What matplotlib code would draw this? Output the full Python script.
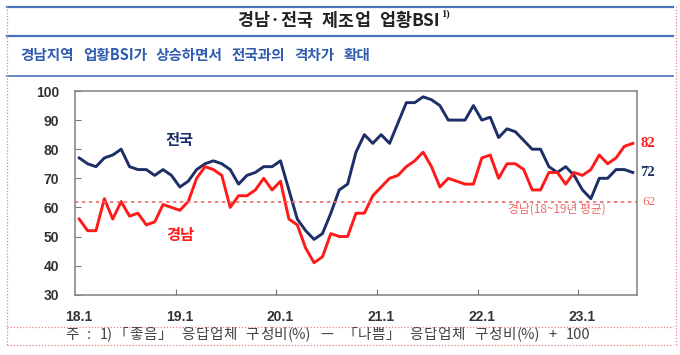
import matplotlib
matplotlib.use("Agg")
import matplotlib.pyplot as plt
from matplotlib.lines import Line2D

plt.rcParams["font.family"] = ["Noto Sans CJK KR", "DejaVu Sans"]

# monthly manufacturing BSI, 2018.1 - 2023.7
national = [
    77, 75, 74, 77, 78, 80, 74, 73, 73, 71, 73, 71,
    67, 69, 73, 75, 76, 75, 73, 68, 71, 72, 74, 74,
    76, 66, 56, 52, 49, 51, 58, 66, 68, 79, 85, 82,
    85, 82, 89, 96, 96, 98, 97, 95, 90, 90, 90, 95,
    90, 91, 84, 87, 86, 83, 80, 80, 74, 72, 74, 71,
    66, 63, 70, 70, 73, 73, 72,
]
gyeongnam = [
    56, 52, 52, 63, 56, 62, 57, 58, 54, 55, 61, 60,
    59, 62, 70, 74, 73, 71, 60, 64, 64, 66, 70, 66,
    69, 56, 54, 46, 41, 43, 51, 50, 50, 58, 58, 64,
    67, 70, 71, 74, 76, 79, 74, 67, 70, 69, 68, 68,
    77, 78, 70, 75, 75, 73, 66, 66, 72, 72, 68, 72,
    71, 73, 78, 75, 77, 81, 82,
]
gn_avg = 62
year_labels = ["18.1", "19.1", "20.1", "21.1", "22.1", "23.1"]
y_ticks = [30, 40, 50, 60, 70, 80, 90, 100]

title_words = ["경남·전국", "제조업", "업황BSI"]
subtitle_words = ["경남지역", "업황BSI가", "상승하면서", "전국과의", "격차가", "확대"]
note_words = ["주", ":", "1)「좋음」", "응답업체", "구성비(%)", "—",
              "「나쁨」", "응답업체", "구성비(%)", "+", "100"]

navy = "#1c2f66"
red = "#ff1a1a"
pink = "#ef6b6b"
frame_blue = "#4a72b8"

W, H = 680, 355
fig = plt.figure(figsize=(6.8, 3.55), dpi=100)
renderer = fig.canvas.get_renderer()


def split_tokens(word):
    # hangul/symbols one by one, ascii runs kept together
    out = []
    for ch in word:
        if ch.isascii() and out and out[-1][-1].isascii():
            out[-1] += ch
        else:
            out.append(ch)
    return out


def spread_text(words, x0, x1, y, word_gap, letters=True, **kw):
    # justified text between x0 and x1 (pixels)
    groups = [split_tokens(w) if letters else [w] for w in words]
    texts = [[fig.text(0, 1 - y / H, t, va="center", ha="left", **kw) for t in g] for g in groups]
    widths = [[t.get_window_extent(renderer).width for t in g] for g in texts]
    n_inner = sum(len(g) - 1 for g in texts)
    n_gaps = n_inner + len(texts) - 1
    total = sum(sum(g) for g in widths) + word_gap * (len(texts) - 1)
    g = (x1 - x0 - total) / max(n_gaps, 1)
    x = x0
    for tg, wg in zip(texts, widths):
        for t, w in zip(tg, wg):
            t.set_x(x / W)
            x += w + g
        x += word_gap


ax = fig.add_axes([75 / W, 1 - 294.7 / H, 562 / W, 203.7 / H])

x = list(range(len(national)))
ax.plot(x, national, color=navy, linewidth=2.1, solid_joinstyle="round")
ax.plot(x, gyeongnam, color=red, linewidth=2.1, solid_joinstyle="round")
ax.axhline(gn_avg, color=pink, linestyle=(0, (2, 2.2)), linewidth=1.2)

ax.set_xlim(-0.5, len(national) - 0.5)
ax.set_ylim(30, 100)
ax.set_yticks(y_ticks)
ax.set_yticklabels([str(v) for v in y_ticks], fontsize=10, fontweight="bold",
                   color="#333333", family=["Liberation Sans"])

# tick marks between years, labels under the first month
ax.set_xticks([-0.5 + 12 * k for k in range(1, len(year_labels))])
ax.set_xticklabels([])
ax.set_xticks([12 * k for k in range(len(year_labels))], minor=True)
ax.set_xticklabels(year_labels, minor=True, fontsize=10, fontweight="bold",
                   color="#333333", family=["Liberation Sans"])
ax.tick_params(axis="x", which="major", direction="in", length=4, color="#777777")
ax.tick_params(axis="x", which="minor", length=0, pad=11)
ax.tick_params(axis="y", direction="in", length=4, color="#777777", pad=11.5)
for sp in ax.spines.values():
    sp.set_color("#8a8a8a")
    sp.set_linewidth(1.2)

ax.text(12, 83, "전국", color=navy, fontsize=11, fontweight="bold", ha="center", va="center")
ax.text(12, 50.5, "경남", color=red, fontsize=11, fontweight="bold", ha="center", va="center")
ax.text(57, 59.3, "경남(18~19년 평균)", color=pink, fontsize=8.5, ha="center", va="center")

# end-of-series labels on the right
ax.text(66.9, gyeongnam[-1], str(gyeongnam[-1]), color=red, fontsize=10.5, fontweight="bold",
        ha="left", va="center", clip_on=False, family=["Liberation Serif"])
ax.text(66.9, national[-1], str(national[-1]), color=navy, fontsize=10.5, fontweight="bold",
        ha="left", va="center", clip_on=False, family=["Liberation Serif"])
ax.text(67.1, gn_avg, str(gn_avg), color=pink, fontsize=9.5,
        ha="left", va="center", clip_on=False, family=["Liberation Serif"])


# report-style frame
def hline(y, color, lw, ls="-", x0=6.7, x1=673):
    fig.add_artist(Line2D([x0 / W, x1 / W], [1 - y / H, 1 - y / H],
                          color=color, linewidth=lw, linestyle=ls))


hline(6.7, frame_blue, 1.6)
hline(35.7, frame_blue, 1.6)
hline(76, frame_blue, 1.2)
hline(326.7, "#f08080", 0.9, (0, (1, 1.5)))
hline(345, "#f08080", 0.9, (0, (1, 1.5)))
for xv in (6.5, 676):
    fig.add_artist(Line2D([xv / W, xv / W], [1 - 6 / H, 1 - 346 / H],
                          color="#f08080", linewidth=0.9, linestyle=(0, (1, 1.5))))

spread_text(title_words, 237, 440, 21, 9, fontsize=12.5, fontweight="bold", color="#222222")
fig.text(441 / W, 1 - 14 / H, "1)", fontsize=7.5, fontweight="bold", color="#222222",
         ha="left", va="center", family=["Liberation Serif"])
spread_text(subtitle_words, 20.7, 370, 55, 12, letters=False, fontsize=10.5,
            fontweight="bold", color="#2f5cae")
spread_text(note_words, 65, 590, 335, 8, fontsize=10.5, color="#444444")

fig.savefig("out.png", dpi=100)
